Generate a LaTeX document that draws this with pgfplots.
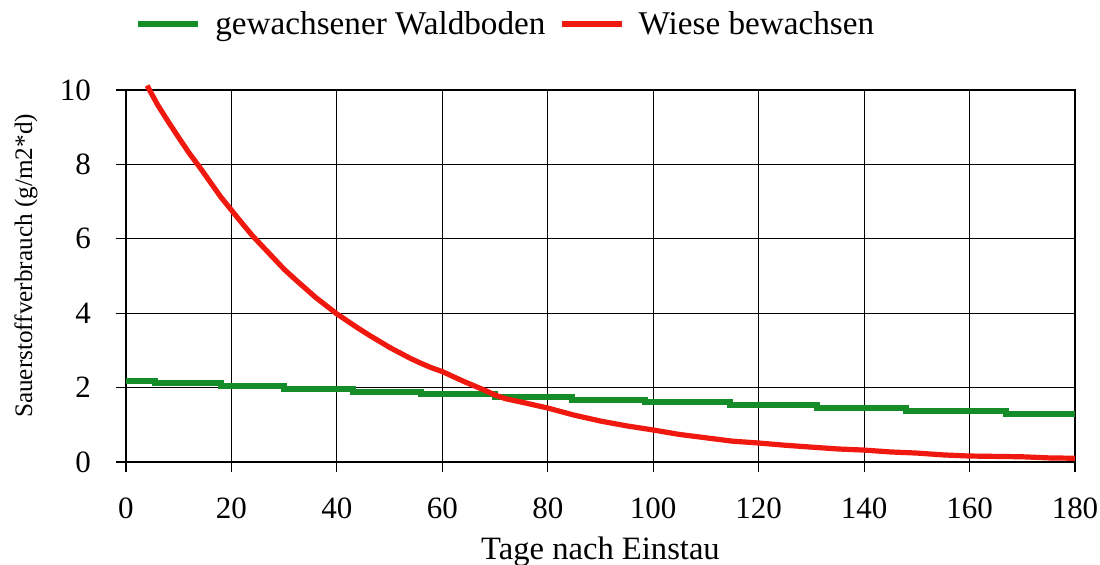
\documentclass[border=0pt]{standalone}
\usepackage{pgfplots}
\pgfplotsset{compat=1.18}
\usepackage{fontspec}
\setmainfont{Liberation Serif}
\definecolor{cgreen}{RGB}{20,140,40}
\definecolor{cred}{RGB}{240,25,15}
\begin{document}
\begin{tikzpicture}
\begin{axis}[
  at={(0pt,0pt)}, anchor=south west,
  scale only axis,
  width=474.5pt, height=186pt,
  xmin=0, xmax=180, ymin=0, ymax=10,
  xtick={0,20,...,180}, ytick={0,2,...,10},
  grid=major,
  major grid style={black, line width=0.5pt},
  axis line style={black, line width=0.8pt},
  tick align=outside,
  tick pos=left,
  major tick length=5pt,
  tick style={black, line width=0.6pt},
  clip=false,
  /pgf/number format/assume math mode=true,
  ticklabel style={font=\fontsize{15.5}{18}\selectfont},
  xticklabel style={yshift=-9.5pt},
  yticklabel style={xshift=-9pt},
  xlabel={Tage nach Einstau},
  xlabel style={at={(axis description cs:0.5,0)}, anchor=base, yshift=-49pt, font=\fontsize{16.3}{19}\selectfont},
  ylabel={Sauerstoffverbrauch (g/m2*d)},
  ylabel style={at={(axis description cs:-0.099,0.527)}, anchor=base, font=\fontsize{12.6}{15}\selectfont},
  legend columns=2,
  legend style={at={(axis description cs:0,1)}, anchor=west, xshift=4.5pt, yshift=33pt,
    draw=none, fill=none, inner sep=0pt, font=\fontsize{16.6}{19}\selectfont,
    nodes={inner xsep=7pt},
    /tikz/every even column/.append style={column sep=0pt}},
  legend image code/.code={\draw[#1] (0pt,0pt) -- (30pt,0pt);},
]
\addplot[const plot, cgreen, line width=3pt] coordinates {
(0,2.18) (5.5,2.11) (18,2.03) (30,1.96) (43,1.89) (56,1.82) (70,1.76)
(84.5,1.67) (98.5,1.60) (114.5,1.52) (131,1.45) (148,1.37) (167,1.29) (180,1.29)
};
\addlegendentry{gewachsener Waldboden}
\addplot[cred, line width=2.6pt] coordinates {
(4,10.12) (6,9.6) (8,9.15) (10,8.72) (12,8.3) (14,7.92) (16,7.52) (18,7.12) (20,6.77)
(22,6.42) (24,6.08) (26,5.78) (28,5.48) (30,5.18) (32,4.92) (34,4.67) (36,4.42) (38,4.2)
(40,3.98) (42,3.79) (44,3.6) (46,3.42) (48,3.25) (50,3.08) (52,2.93) (54,2.78) (56,2.65)
(58,2.53) (60,2.43) (62,2.3) (64,2.17) (66,2.05) (68,1.93) (70,1.8) (72,1.7) (75,1.61)
(80,1.45) (85,1.26) (90,1.1) (95,0.97) (100,0.86) (105,0.74) (110,0.65) (115,0.56)
(120,0.51) (125,0.45) (130,0.4) (135,0.35) (140,0.32) (145,0.27) (150,0.24) (155,0.19)
(160,0.16) (165,0.15) (170,0.14) (175,0.11) (180,0.1)
};
\addlegendentry{Wiese bewachsen}
\end{axis}
\pgfresetboundingbox
\path[use as bounding box] (-63pt,-51.5pt) rectangle (487pt,231pt);
\end{tikzpicture}
\end{document}
